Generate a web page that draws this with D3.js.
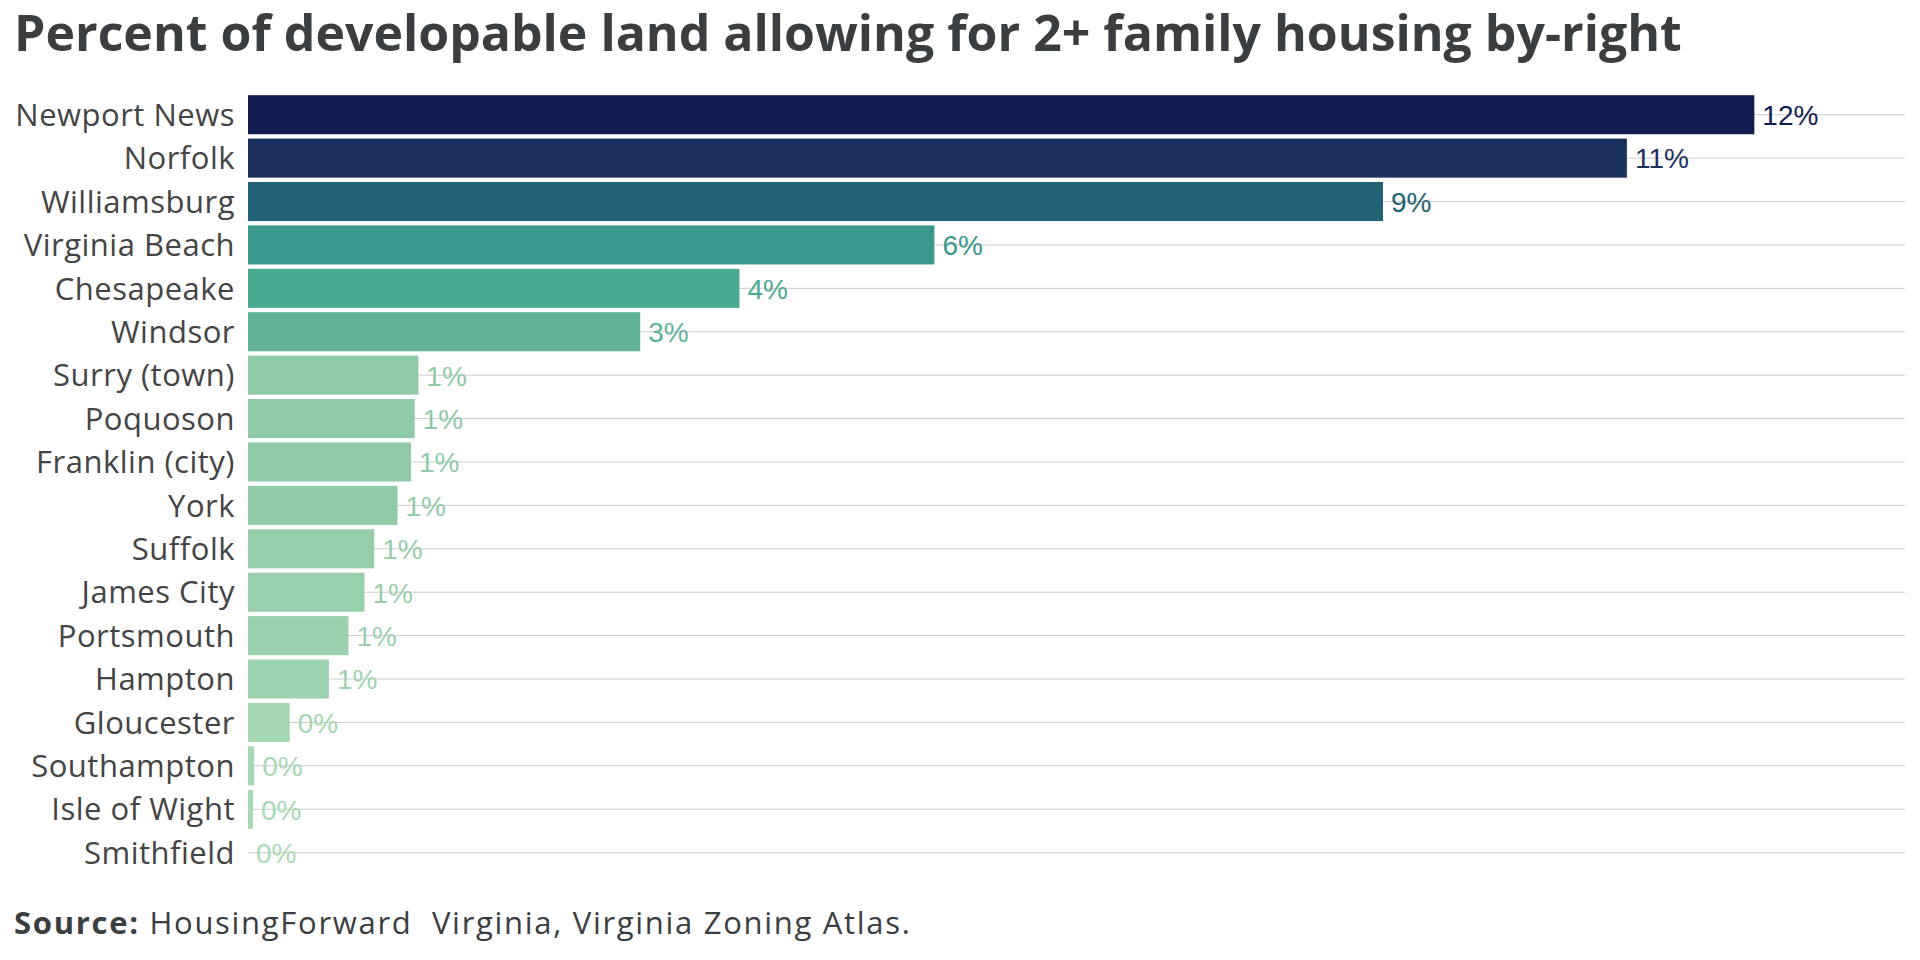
<!DOCTYPE html>
<html>
 <head>
  <meta charset="utf-8">
  <script src="https://cdn.jsdelivr.net/npm/d3@7"></script>
  <style>
   body { margin: 0; background: #fff; }
  </style>
 </head>
 <body>
  <div id="chart"></div>
  <script type="text/javascript">
   // data (percent of developable land)
   var cities = ["Newport News","Norfolk","Williamsburg","Virginia Beach","Chesapeake","Windsor",
                 "Surry (town)","Poquoson","Franklin (city)","York","Suffolk","James City",
                 "Portsmouth","Hampton","Gloucester","Southampton","Isle of Wight","Smithfield"];
   var shares = [12.29, 11.25, 9.26, 5.60, 4.01, 3.20,
                 1.39, 1.36, 1.33, 1.22, 1.03, 0.95,
                 0.82, 0.66, 0.34, 0.05, 0.04, 0.00];
   var barColors = ["#111c4f","#1c305d","#216277","#3a978b","#4aa991","#60b398",
                    "#8ecaa6","#8ecaa6","#8ecaa6","#91cca7","#95cea9","#97cfab",
                    "#9ad1ac","#9dd3ae","#a3d7b0","#a6d9b3","#a6d9b3","#a8dab4"];
   var titleText = "Percent of developable land allowing for 2+ family housing by-right";

   function draw() {
     var W = 1920, H = 960;
     var plotLeft = 248, plotRight = 1905, plotTop = 93, rowStep = 43.41;

     var svg = d3.select("#chart").append("svg")
       .attr("width", W).attr("height", H);

     var x = d3.scaleLinear()
       .domain([0, d3.max(shares) * 1.1])
       .range([plotLeft, plotRight]);
     var y = d3.scaleBand()
       .domain(cities)
       .range([plotTop, plotTop + rowStep * cities.length])
       .paddingInner(0.1).paddingOuter(0.05);
     var color = d3.scaleOrdinal(cities, barColors);

     var rows = cities.map(function (c, i) { return {city: c, v: shares[i]}; });
     var mid = function (d) { return y(d.city) + y.bandwidth() / 2; };

     // title
     svg.append("text")
       .attr("x", 14).attr("y", 51)
       .style("font-family", "'Open Sans'")
       .style("font-weight", "bold")
       .style("font-size", "50px")
       .style("fill", "#3b3e40")
       .text(titleText);

     // gridlines behind the bars
     svg.selectAll("line.grid")
       .data(rows).enter().append("line")
       .attr("class", "grid")
       .attr("x1", plotLeft).attr("x2", plotRight)
       .attr("y1", mid).attr("y2", mid)
       .style("stroke", "#cccccc")
       .style("stroke-width", 1);

     svg.selectAll("rect.bar")
       .data(rows).enter().append("rect")
       .attr("class", "bar")
       .attr("x", x(0))
       .attr("y", function (d) { return y(d.city); })
       .attr("width", function (d) { return x(d.v) - x(0); })
       .attr("height", y.bandwidth())
       .style("fill", function (d) { return color(d.city); });

     // category names
     svg.selectAll("text.cat")
       .data(rows).enter().append("text")
       .attr("class", "cat")
       .attr("x", plotLeft - 13)
       .attr("y", mid)
       .attr("dy", "0.36em")
       .attr("text-anchor", "end")
       .style("font-family", "'Open Sans'")
       .style("font-size", "31px")
       .style("letter-spacing", "0.5px")
       .style("fill", "#444444")
       .text(function (d) { return d.city; });

     // value labels
     var fmt = d3.format(".0f");
     svg.selectAll("text.val")
       .data(rows).enter().append("text")
       .attr("class", "val")
       .attr("x", function (d) { return x(d.v) + 8; })
       .attr("y", mid)
       .attr("dy", "0.37em")
       .style("font-family", "'Liberation Sans', Arial")
       .style("font-size", "28px")
       .style("fill", function (d) { return color(d.city); })
       .text(function (d) { return fmt(d.v) + "%"; });

     // source line
     var src = svg.append("text")
       .attr("x", 14).attr("y", 934)
       .style("font-family", "'Open Sans'")
       .style("font-size", "31px")
       .style("letter-spacing", "1.7px")
       .style("fill", "#3b3e40")
       .style("white-space", "pre");
     src.append("tspan").style("font-weight", "bold").text("Source:");
     src.append("tspan").text(" HousingForward  Virginia, Virginia Zoning Atlas.");
   }
   draw();
  </script>
 </body>
</html>
